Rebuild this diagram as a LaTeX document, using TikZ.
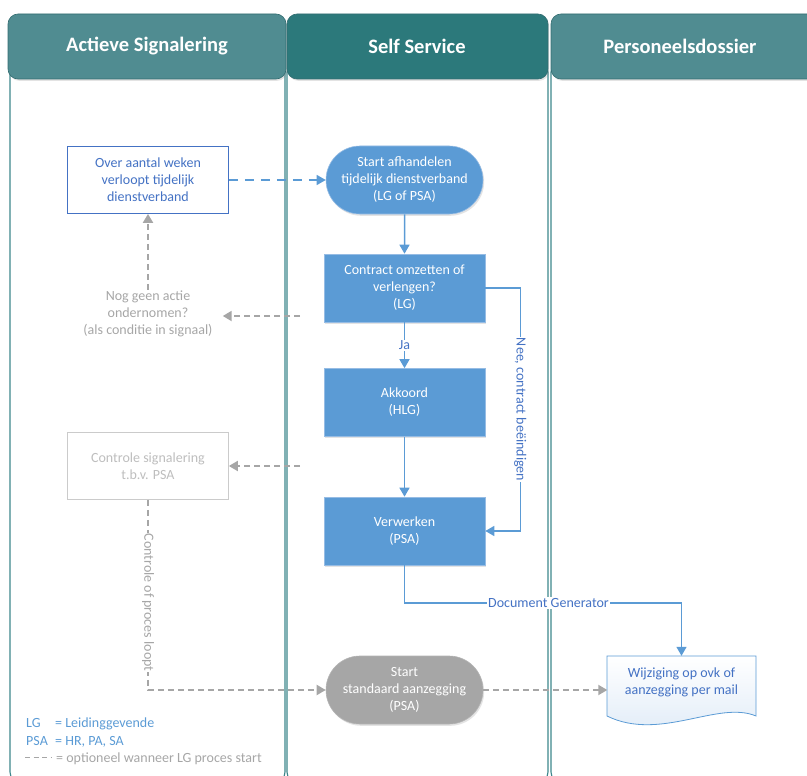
\documentclass[tikz,border=0pt]{standalone}
\usepackage{fontspec}
\setmainfont{Carlito}
\usetikzlibrary{arrows.meta,shapes.misc,shadows}
\definecolor{hdrA}{RGB}{80,140,145}
\definecolor{hdrB}{RGB}{44,121,123}
\definecolor{laneline}{RGB}{62,135,140}
\definecolor{boxblue}{RGB}{91,155,213}
\definecolor{boxedge}{RGB}{150,188,228}
\definecolor{txtblue}{RGB}{68,114,196}
\definecolor{gry}{RGB}{166,166,166}
\definecolor{lgry}{RGB}{190,190,190}
\definecolor{docfill}{RGB}{222,234,247}
\tikzset{
  softshadow/.style={drop shadow={opacity=0.22,shadow xshift=1.2pt,shadow yshift=-1.8pt}},
  hdr/.style={rounded corners=10pt,draw=laneline!80!black,line width=0.6pt,softshadow},
  hdrtext/.style={text=white,font=\fontsize{20.5}{24}\selectfont\bfseries},
  lane/.style={draw=laneline,line width=1.1pt,rounded corners=12pt},
  body/.style={font=\fontsize{14}{17}\selectfont,align=center},
  proc/.style={body,rectangle,fill=boxblue,draw=boxedge,line width=0.6pt,text=white,
    minimum width=161pt,minimum height=68pt,inner sep=2pt,softshadow},
  term/.style={proc,rounded rectangle},
  sig/.style={body,rectangle,fill=white,draw=txtblue,line width=0.8pt,text=txtblue,
    minimum width=161pt,minimum height=67pt,inner sep=2pt},
  bl/.style={draw=boxblue,line width=1.5pt,-{Triangle[length=9pt,width=10pt]}},
  bldash/.style={bl,dash pattern=on 9pt off 7pt},
  gd/.style={draw=gry,line width=2pt,dash pattern=on 6pt off 4pt,-{Triangle[length=9pt,width=10pt]}},
  lbl/.style={body,fill=white,inner sep=1pt},
  leg/.style={anchor=base west,font=\fontsize{14}{17}\selectfont,inner sep=0pt},
}
\begin{document}
\begin{tikzpicture}[x=1pt,y=-1pt]
\useasboundingbox (0,0) rectangle (807,776);
\begin{scope}
\clip (0,0) rectangle (807,776);
% lanes
\draw[lane] (10,60) rectangle (285,784);
\draw[lane] (287,60) rectangle (548,784);
\draw[lane] (551,60) rectangle (830,784);
% headers
\draw[hdr,fill=hdrA] (8,14) rectangle (286,79);
\draw[hdr,fill=hdrB] (287,14) rectangle (548,79);
\draw[hdr,fill=hdrA] (551,14) rectangle (830,79);
\end{scope}
\node[hdrtext] (hA) at (147,46) {Actieve Signalering};
\node[hdrtext] (hB) at (417,46) {Self Service};
\node[hdrtext] (hC) at (680,46) {Personeelsdossier};

% nodes
\node[sig] (over) at (148,180) {Over aantal weken\\verloopt tijdelijk\\dienstverband};
\node[term] (start) at (404.5,180) {Start afhandelen\\tijdelijk dienstverband\\(LG of PSA)};
\node[proc] (contract) at (404.5,288) {Contract omzetten of\\verlengen?\\(LG)};
\node[proc] (akk) at (404.5,402.5) {Akkoord\\(HLG)};
\node[proc] (verw) at (404.5,531) {Verwerken\\(PSA)};
\node[term,fill=gry,draw=gry!85!white] (ss) at (404.5,690) {Start\\standaard aanzegging\\(PSA)};
\node[body,text=gry,inner xsep=10pt,inner ysep=1pt] (nog) at (148,314) {Nog geen actie\\ondernomen?\\(als conditie in signaal)};
\node[body,rectangle,draw=lgry!80!white,line width=0.7pt,text=lgry,fill=white,
  minimum width=161pt,minimum height=67pt] (ctrl) at (148,466) {Controle signalering\\t.b.v. PSA};

% document shape
\node[body,text=txtblue,minimum width=148pt,minimum height=56pt,inner sep=2pt] (doc) at (681.5,684) {};
\path[draw=boxblue,line width=0.8pt,top color=white,bottom color=docfill]
  (607,656) -- (756,656) -- (756,716)
  .. controls (718,700) and (660,742) .. (607,716) -- cycle;
\node[body,text=txtblue] (doctext) at (681.5,682) {Wijziging op ovk of\\aanzegging per mail};

% connectors
\draw[bldash] (over) -- (start);
\draw[bl] (start) -- (contract);
\draw[bl] (contract) -- node[lbl,text=txtblue] (ja) {Ja} (akk);
\draw[bl] (contract.east) -- ++(35,0) |- node[pos=0.25,lbl,rotate=-90,text=txtblue] (nee) {Nee, contract beëindigen} (verw.east);
\draw[bl] (akk) -- (verw);
\coordinate (dg) at (404.5,603);
\draw[bl] (verw.south) -- (dg) -| node[pos=0.26,lbl,text=txtblue] (dgl) {Document Generator} (doc.north);

\coordinate (g1) at (300,316);
\draw[gd] (g1) -- (g1 -| nog.east);
\draw[gd] (nog.north) -- (over.south);
\coordinate (g2) at (300,466);
\draw[gd] (g2) -- (ctrl.east);
\draw[gd] (ctrl.south) |- node[pos=0.27,lbl,rotate=-90,text=gry] (cpl) {Controle of proces loopt} (ss.west);
\draw[gd] (ss.east) -- (ss.east -| doc.west);

% legend
\node[leg,text=boxblue] (l1a) at (26,727) {LG};
\node[leg,text=boxblue] (l1b) at (55,727) {= Leidinggevende};
\node[leg,text=boxblue] (l2a) at (26,745) {PSA};
\node[leg,text=boxblue] (l2b) at (55,745) {= HR, PA, SA};
\coordinate (l3s) at (25,757.5);
\coordinate (l3e) at (51,757.5);
\draw[draw=gry,line width=1.5pt,dash pattern=on 5pt off 3.5pt] (l3s) -- (l3e);
\node[leg,text=gry] (l3) at (56,762) {= optioneel wanneer LG proces start};
\end{tikzpicture}
\end{document}
